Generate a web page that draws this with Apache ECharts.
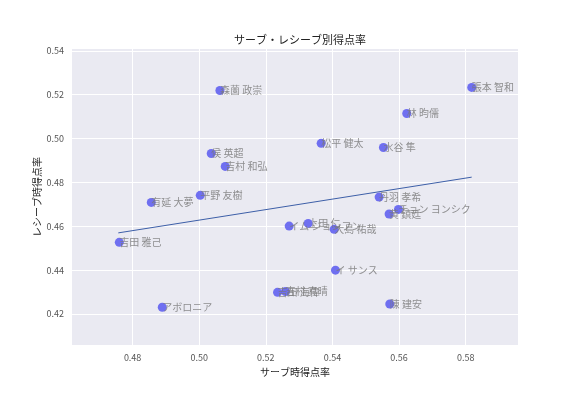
<!DOCTYPE html>
<html><head><meta charset="utf-8">
<script src="https://cdn.jsdelivr.net/npm/echarts@6/dist/echarts.min.js"></script>
<style>html,body{margin:0;padding:0;background:#fff}#c{width:576px;height:396px}</style>
</head><body><div id="c"></div>
<script>
const names = ["森薗 政崇","侯 英超","吉村 和弘","張本 智和","林 昀儒","松平 健太","水谷 隼","有延 大夢","平野 友樹","吉田 雅己","イム ジョンフン","上田 仁","大島 祐哉","丹羽 孝希","黄 鎮廷","チョン ヨンシク","イ サンス","アボロニア","陳 建安","吉田 海偉","吉村 真晴"];
const serve = [0.5062,0.5036,0.5078,0.5818,0.5623,0.5366,0.5553,0.4856,0.5003,0.4760,0.5270,0.5327,0.5405,0.5540,0.5570,0.5598,0.5409,0.4889,0.5572,0.5235,0.5259];
const receive = [0.5219,0.4932,0.4873,0.5233,0.5114,0.4978,0.4959,0.4709,0.4741,0.4527,0.4601,0.4613,0.4586,0.4733,0.4656,0.4677,0.4400,0.4231,0.4246,0.4299,0.4303];
const trendX = [0.4757,0.5818];
const trendY = [0.4570,0.4824];
const xTicks = [0.48,0.50,0.52,0.54,0.56,0.58];
const yTicks = [0.42,0.44,0.46,0.48,0.50,0.52,0.54];

const font = '"Noto Sans CJK JP", "DejaVu Sans", sans-serif';
const chart = echarts.init(document.getElementById('c'), null, {renderer:'canvas'});
chart.setOption({
  animation:false,
  title:{text:'サーブ・レシーブ別得点率',left:295,textAlign:'center',top:29,
    textStyle:{fontFamily:font,fontSize:11,fontWeight:'normal',color:'#222'}},
  grid:{left:72,right:58,top:49,bottom:51,show:true,backgroundColor:'#eaeaf2',borderWidth:0},
  xAxis:{type:'value',min:0.4618,max:0.5957,
    name:'サーブ時得点率',nameLocation:'middle',nameGap:22,nameMoveOverlap:false,
    nameTextStyle:{fontFamily:font,fontSize:10,color:'#222'},
    axisLine:{show:false},axisTick:{show:false,customValues:xTicks},
    splitLine:{show:true,lineStyle:{color:'#fff',width:1}},
    axisLabel:{fontFamily:font,fontSize:9,color:'#555',margin:8,customValues:xTicks,
      formatter:v=>v.toFixed(2)}
  },
  yAxis:{type:'value',min:0.4059,max:0.5408,
    name:'レシーブ時得点率',nameLocation:'middle',nameGap:30,nameMoveOverlap:false,
    nameTextStyle:{fontFamily:font,fontSize:10,color:'#222'},
    axisLine:{show:false},axisTick:{show:false,customValues:yTicks},
    splitLine:{show:true,lineStyle:{color:'#fff',width:1}},
    axisLabel:{fontFamily:font,fontSize:9,color:'#555',margin:8,customValues:yTicks,
      formatter:v=>v.toFixed(2)}
  },
  series:[
    {type:'line',data:trendX.map((x,i)=>[x,trendY[i]]),symbol:'none',
     lineStyle:{color:'#3d5fa8',width:1},z:3,silent:true},
    {type:'scatter',data:serve.map((x,i)=>({value:[x,receive[i]],name:names[i]})),
     symbolSize:9,itemStyle:{color:'#6262f0',opacity:0.9},z:4,
     label:{show:true,formatter:p=>p.name,position:'right',distance:-4.5,offset:[0,-3],
       fontFamily:font,fontSize:10,color:'rgba(120,120,120,0.9)'},
     labelLayout:{hideOverlap:false}}
  ]
});
</script></body></html>
